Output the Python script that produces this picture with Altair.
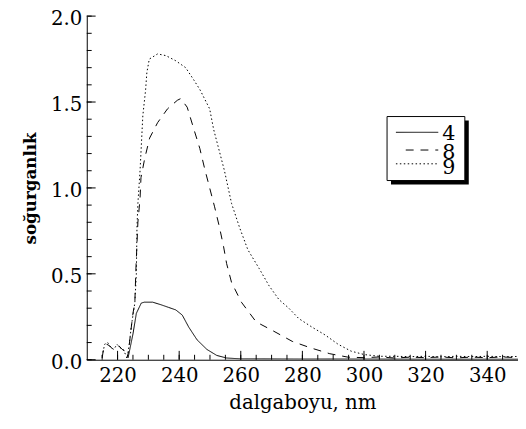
import altair as alt
import pandas as pd

# ---- data ----
x4 = [223.4, 225.0, 226.1, 227.7, 228.7, 231.4, 234.1, 236.5, 238.9, 241.0, 243.1,
      245.8, 249.0, 252.2, 255.4, 260.0, 280.0, 300.0, 320.0, 350.0]
y4 = [0.01, 0.15, 0.27, 0.33, 0.335, 0.335, 0.32, 0.305, 0.29, 0.26, 0.19,
      0.116, 0.06, 0.025, 0.01, 0.005, 0.004, 0.004, 0.003, 0.003]

x8 = [215.0, 215.5, 216.5, 217.5, 218.5, 219.5, 220.5, 221.5, 222.5, 223.0, 223.5,
      224.2, 225.0, 225.6, 226.0, 226.6, 227.3, 227.6, 228.8, 230.4, 233.0, 236.2,
      239.4, 240.5, 242.6, 244.8, 246.7, 248.3, 249.9, 251.5, 253.1, 254.4, 255.4,
      257.0, 260.2, 265.0, 270.3, 276.7, 282.5, 288.9, 294.8, 300.0, 305.0, 310.0,
      315.0, 320.0, 325.0, 330.0, 335.0, 340.0, 345.0, 350.0]
y8 = [0.01, 0.07, 0.09, 0.08, 0.06, 0.07, 0.08, 0.06, 0.05, 0.01, 0.04,
      0.15, 0.27, 0.33, 0.55, 0.80, 0.94, 1.06, 1.17, 1.29, 1.38, 1.46,
      1.51, 1.52, 1.47, 1.34, 1.23, 1.11, 1.00, 0.89, 0.77, 0.66, 0.56,
      0.45, 0.335, 0.22, 0.17, 0.107, 0.07, 0.035, 0.015, 0.012, 0.016, 0.01,
      0.015, 0.012, 0.016, 0.011, 0.015, 0.012, 0.016, 0.012]

x9 = [215.0, 215.8, 216.8, 217.8, 218.8, 219.8, 220.8, 221.8, 222.6, 223.2, 223.8,
      224.5, 225.0, 225.6, 226.1, 226.3, 226.6, 227.3, 228.2, 229.1, 229.5, 230.3,
      233.0, 235.7, 238.9, 242.1, 244.7, 246.8, 249.9, 251.2, 253.1, 254.7, 257.0,
      259.6, 262.3, 266.0, 269.2, 272.4, 275.6, 278.8, 283.1, 287.3, 291.6, 295.8,
      300.1, 305.0, 310.0, 315.0, 320.0, 325.0, 330.0, 335.0, 340.0, 345.0, 350.0]
y9 = [0.02, 0.09, 0.10, 0.07, 0.06, 0.09, 0.07, 0.06, 0.03, 0.02, 0.09,
      0.20, 0.26, 0.33, 0.50, 0.77, 0.91, 1.10, 1.42, 1.57, 1.67, 1.75,
      1.78, 1.77, 1.74, 1.70, 1.63, 1.57, 1.46, 1.34, 1.21, 1.10, 0.91,
      0.77, 0.64, 0.53, 0.43, 0.35, 0.30, 0.24, 0.19, 0.145, 0.09, 0.05,
      0.03, 0.02, 0.02, 0.018, 0.02, 0.017, 0.02, 0.018, 0.02, 0.018, 0.019]

series_names = ["4", "8", "9"]
series_dash = [[1, 0], [8, 7], [1.5, 2.5]]

x_labels = [220, 240, 260, 280, 300, 320, 340]
x_minor = [v for v in range(215, 350, 5)]
y_labels = [0.0, 0.5, 1.0, 1.5, 2.0]
y_minor = [round(i * 0.1, 1) for i in range(0, 21)]

FONT = "DejaVu Serif"

W, H = 438, 349

rows = []
for name, xs, ys in zip(series_names, [x4, x8, x9], [y4, y8, y9]):
    for i, (a, b) in enumerate(zip(xs, ys)):
        rows.append({"series": name, "nm": a, "abs": b, "order": i})
df = pd.DataFrame(rows)

xscale = alt.Scale(domain=[210, 350], nice=False, zero=False)
yscale = alt.Scale(domain=[0, 2.0], nice=False)

lines = alt.Chart(df).mark_line(color="black", strokeWidth=1, clip=True).encode(
    x=alt.X("nm:Q", scale=xscale,
            axis=alt.Axis(title="dalgaboyu, nm", values=x_labels, format="d",
                          ticks=False, grid=False, labelPadding=6,
                          titlePadding=8, labelFlush=False)),
    y=alt.Y("abs:Q", scale=yscale,
            axis=alt.Axis(title="soğurganlık", values=y_labels, format=".1f",
                          ticks=False, grid=False, labelPadding=5, labelOffset=3,
                          titlePadding=11, titleFontWeight="bold",
                          titleFontSize=17)),
    strokeDash=alt.StrokeDash(
        "series:N",
        scale=alt.Scale(domain=series_names, range=series_dash),
        legend=None,
    ),
    order="order:Q",
)

tick_df_xmaj = pd.DataFrame({"v": x_labels})
tick_df_xmin = pd.DataFrame({"v": x_minor})
tick_df_ymaj = pd.DataFrame({"v": y_labels})
tick_df_ymin = pd.DataFrame({"v": y_minor})

xmaj = alt.Chart(tick_df_xmaj).mark_rule(color="black", strokeWidth=1).encode(
    x=alt.X("v:Q", scale=xscale), y=alt.value(H), y2=alt.value(H - 9))
xmin = alt.Chart(tick_df_xmin).mark_rule(color="black", strokeWidth=1).encode(
    x=alt.X("v:Q", scale=xscale), y=alt.value(H), y2=alt.value(H - 5))
ymaj = alt.Chart(tick_df_ymaj).mark_rule(color="black", strokeWidth=1).encode(
    y=alt.Y("v:Q", scale=yscale), x=alt.value(0), x2=alt.value(9))
ymin = alt.Chart(tick_df_ymin).mark_rule(color="black", strokeWidth=1).encode(
    y=alt.Y("v:Q", scale=yscale), x=alt.value(0), x2=alt.value(5))

# ---- hand-drawn legend box (with drop shadow), like the reference ----
one = pd.DataFrame({"a": [0]})
LX, LY, LW, LH = 305, 102, 79, 65
shadow = alt.Chart(one).mark_rect(color="black").encode(
    x=alt.value(LX + 4), x2=alt.value(LX + LW + 4),
    y=alt.value(LY + 4), y2=alt.value(LY + LH + 4))
box = alt.Chart(one).mark_rect(fill="white", stroke="black", strokeWidth=1).encode(
    x=alt.value(LX), x2=alt.value(LX + LW),
    y=alt.value(LY), y2=alt.value(LY + LH))

legend_layers = []
sample_y = [LY + 16, LY + 34, LY + 48]
label_y = [LY + 18, LY + 37, LY + 52]
sample_x0 = [LX + 9, LX + 19, LX + 9]
for name, dash, sy, ly, sx in zip(series_names, series_dash, sample_y, label_y, sample_x0):
    legend_layers.append(
        alt.Chart(one).mark_rule(color="black", strokeWidth=1, strokeDash=dash).encode(
            x=alt.value(sx), x2=alt.value(LX + 52), y=alt.value(sy)))
    legend_layers.append(
        alt.Chart(one).mark_text(text=name, font=FONT, fontSize=21, color="black",
                                 align="left", baseline="middle").encode(
            x=alt.value(LX + 56), y=alt.value(ly)))

chart = alt.layer(xmin, xmaj, ymin, ymaj, lines, shadow, box, *legend_layers).properties(
    width=W, height=H,
    autosize=alt.AutoSizeParams(type="none"),
    padding={"left": 80, "top": 5, "right": 0, "bottom": 60},
).configure_view(stroke=None).configure_axis(
    labelFont=FONT, labelFontSize=20, labelColor="black",
    titleFont=FONT, titleFontSize=20, titleColor="black",
    domainColor="black", domainWidth=1,
).configure_axisX(titleFontWeight="normal")

chart.save("out.html", embed_options={"renderer": "svg", "actions": False})
